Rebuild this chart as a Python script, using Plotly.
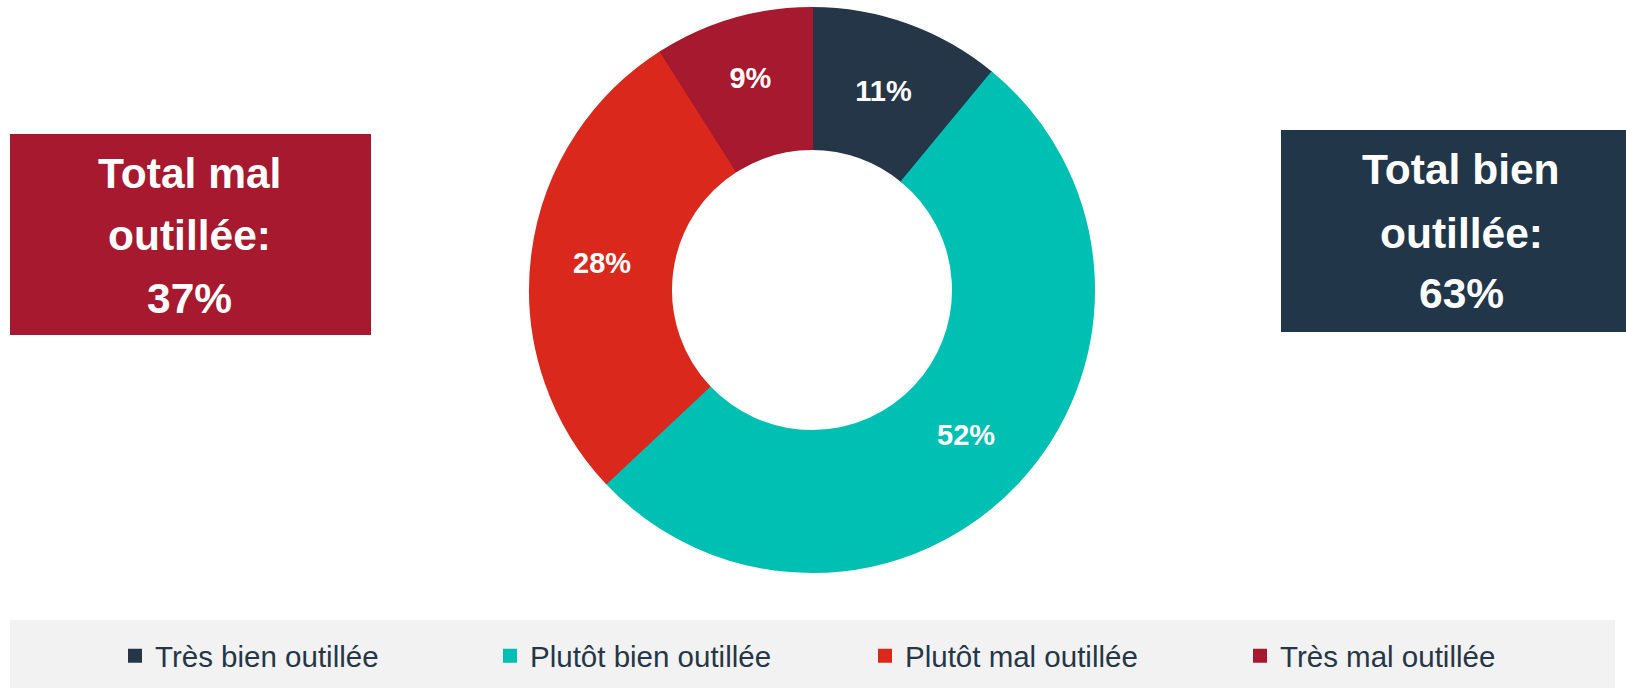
import plotly.graph_objects as go

# ---- data ----
categories = ["Très bien outillée", "Plutôt bien outillée", "Plutôt mal outillée", "Très mal outillée"]
values = [11, 52, 28, 9]
colors = ["#253648", "#00BFB3", "#DA291C", "#A6192E"]

left_box_lines = ["Total mal", "outillée:", "37%"]
right_box_lines = ["Total bien", "outillée:", "63%"]

W, H = 1626, 688
FONT = "Liberation Sans, Arial, sans-serif"

fig = go.Figure()
fig.add_trace(go.Pie(
    labels=categories,
    values=values,
    hole=0.5,
    sort=False,
    direction="clockwise",
    rotation=0,
    marker=dict(colors=colors, line=dict(color=colors, width=2)),
    texttemplate="%{value}%",
    textposition="inside",
    insidetextorientation="horizontal",
    textfont=dict(family=FONT, size=29, color="white", weight="bold"),
    domain=dict(x=[(812 - 282) / W, (812 + 282) / W], y=[(H - 290 - 282) / H, (H - 290 + 282) / H]),
    hoverinfo="label+percent",
))

def px_x(x):
    return x / W

def px_y(y):
    return (H - y) / H

shapes = [
    # legend band
    dict(type="rect", xref="paper", yref="paper", x0=px_x(10), x1=px_x(1615), y0=px_y(688), y1=px_y(620),
         fillcolor="#F2F2F2", line=dict(width=0), layer="below"),
    # left box
    dict(type="rect", xref="paper", yref="paper", x0=px_x(10), x1=px_x(371), y0=px_y(335), y1=px_y(134),
         fillcolor="#A6192E", line=dict(width=0), layer="below"),
    # right box
    dict(type="rect", xref="paper", yref="paper", x0=px_x(1281), x1=px_x(1626), y0=px_y(332), y1=px_y(130),
         fillcolor="#22364A", line=dict(width=0), layer="below"),
]

annotations = []
for txt, yc in zip(left_box_lines, [173, 235, 298]):
    annotations.append(dict(text=txt, x=px_x(189), y=px_y(yc), xref="paper", yref="paper",
                            xanchor="center", yanchor="middle", showarrow=False,
                            font=dict(family=FONT, size=42.5, color="white", weight="bold")))
for txt, yc in zip(right_box_lines, [169, 233, 293]):
    annotations.append(dict(text=txt, x=px_x(1461), y=px_y(yc), xref="paper", yref="paper",
                            xanchor="center", yanchor="middle", showarrow=False,
                            font=dict(family=FONT, size=42.5, color="white", weight="bold")))

fig.update_layout(
    width=W, height=H,
    margin=dict(l=0, r=0, t=0, b=0),
    paper_bgcolor="white",
    plot_bgcolor="white",
    shapes=shapes,
    annotations=annotations,
    showlegend=True,
    legend=dict(
        orientation="h",
        x=px_x(813 + 52), xanchor="center",
        y=px_y(656), yanchor="middle",
        bgcolor="rgba(0,0,0,0)",
        font=dict(family=FONT, size=29.5, color="#253746"),
        entrywidth=330,
        entrywidthmode="pixels",
        itemwidth=30,
        traceorder="normal",
    ),
)

fig.write_html("out.html", config={"displayModeBar": False},
               post_script="document.body.style.margin='0';document.body.style.padding='0';")
